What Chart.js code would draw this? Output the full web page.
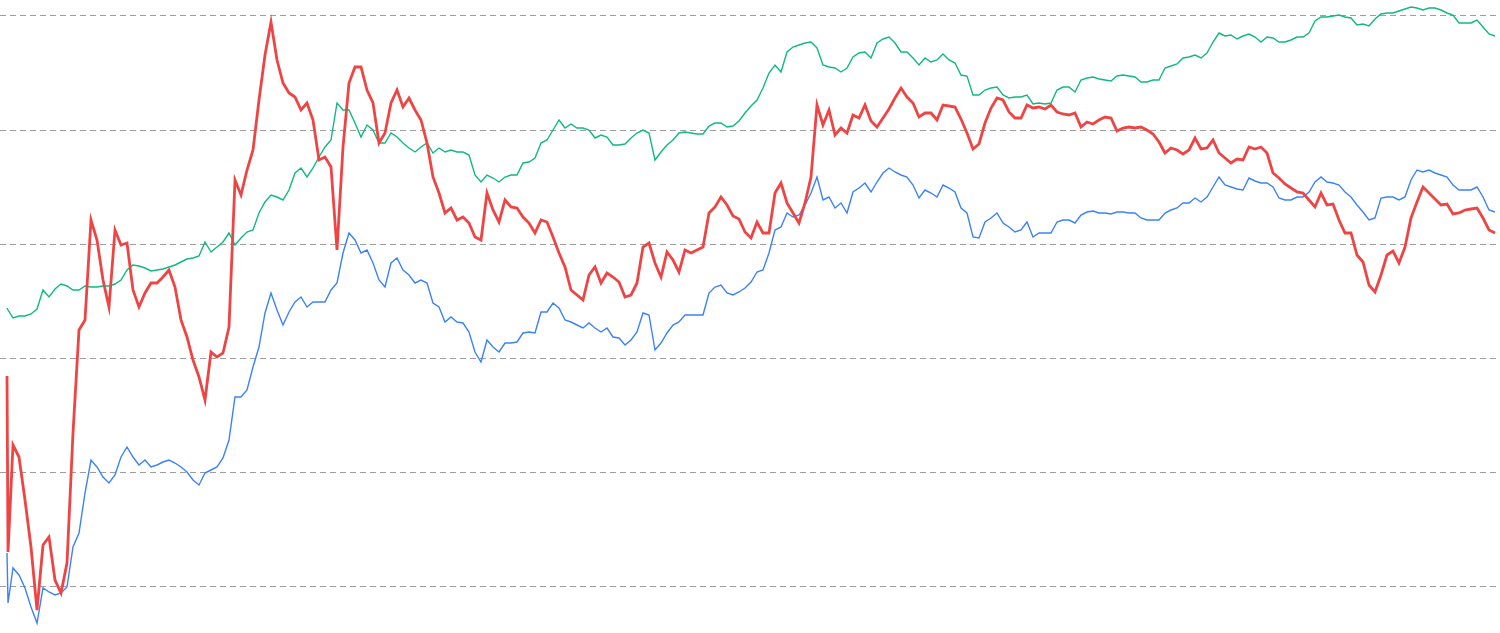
<!DOCTYPE html>
<html>
<head>
<meta charset="utf-8">
<script src="https://cdn.jsdelivr.net/npm/chart.js@4.4.1/dist/chart.umd.min.js"></script>
<style>
  html, body { margin: 0; padding: 0; background: #ffffff; }
  #wrap { width: 1500px; height: 633px; position: relative; }
</style>
</head>
<body>
<div id="wrap"><canvas id="c" width="1500" height="633"></canvas></div>
<script>
// x positions (trading-day index); a second sample just after the start
const days = [0, 0.17];
for (let d = 1; d <= 248; d++) days.push(d);

// grid ticks
const gridTicks = [0, 114, 228, 342, 456, 570];

const redSeries = [210,34,141,129,86,39,-24,41,49,6,-7,23,153,256,266,366,346,306,279,356,341,343,296,279,293,303,303,309,316,299,266,249,226,209,186,234,229,233,259,406,391,416,
436,486,531,564,526,503,493,489,476,483,466,426,429,419,336,439,503,519,519,496,483,443,453,483,496,479,488,476,466,443,409,393,373,378,366,369,363,349,346,393,376,364,386,379,378,369,363,353,366,364,349,
333,319,296,291,286,311,319,303,313,309,304,289,291,303,339,343,323,309,334,326,314,336,333,336,339,373,379,389,381,370,367,354,348,364,353,353,393,403,383,373,363,383,409,481,461,476,451,458,453,471,
468,481,465,459,468,477,488,498,489,483,469,473,473,466,481,480,479,467,453,437,442,463,478,488,486,474,468,468,481,478,479,477,481,474,472,471,473,459,464,462,466,469,468,455,458,459,458,459,456,452,
444,433,438,436,432,436,448,437,438,446,433,428,423,427,426,439,437,439,433,413,408,402,398,394,393,386,379,393,381,382,366,353,353,331,324,301,294,311,331,335,323,339,368,384,399,393,387,381,382,372,373,376,377,378,368,356,353];

const greenSeries = [278,276,268,270,270,272,277,296,289,297,302,300,296,296,300,299,299,300,300,302,306,316,321,320,318,315,316,317,319,321,324,327,328,330,344,334,339,344,353,341,348,354,
356,373,384,391,389,386,396,413,418,409,418,429,439,446,483,476,476,463,449,461,456,443,443,453,449,443,438,434,439,443,433,438,434,436,434,434,431,411,404,411,408,404,409,411,411,423,424,428,443,446,456,
466,458,462,458,458,456,448,451,449,441,441,442,448,453,456,453,426,434,441,446,453,454,453,452,452,460,463,463,459,460,465,473,480,486,498,513,521,514,534,539,541,543,544,538,521,519,518,514,518,529,
533,534,528,543,547,549,543,534,534,528,521,528,524,526,532,526,523,511,510,491,491,496,498,499,491,488,489,489,491,482,483,482,483,496,499,499,494,506,508,509,507,506,505,510,511,510,509,504,504,506,
506,518,520,522,528,529,531,528,533,544,553,550,551,547,550,552,549,544,549,548,544,544,546,549,549,553,565,569,569,570,571,569,568,561,562,560,567,572,573,573,575,577,579,578,576,578,578,576,573,571,563,563,563,566,559,552,550];

const blueSeries = [33,-17,18,11,-2,-21,-37,-2,-6,-9,-7,-1,39,53,93,126,119,109,103,111,129,139,129,121,126,119,121,124,126,123,119,114,106,101,113,116,119,128,146,189,189,196,
219,239,273,293,276,261,274,284,289,279,284,284,284,296,303,333,353,346,333,336,323,306,299,323,328,316,311,303,306,303,283,279,264,269,264,263,254,234,224,246,239,234,243,243,244,253,254,253,274,274,283,
278,266,264,261,258,263,258,254,258,249,248,241,246,254,273,271,236,243,253,261,264,271,271,271,271,293,299,301,293,291,294,298,304,314,316,333,356,359,373,369,371,381,393,409,386,389,378,383,373,394,
398,403,394,404,413,418,414,411,409,401,388,396,393,389,401,398,394,378,373,349,348,364,368,373,363,359,354,356,364,349,353,353,353,364,366,366,363,371,374,375,373,373,372,374,374,373,373,368,366,366,
366,373,376,378,383,383,388,384,389,399,409,401,399,397,396,408,405,403,403,399,388,386,386,389,389,394,404,409,404,403,401,394,389,381,374,366,368,388,389,389,386,389,406,416,414,416,413,411,409,401,396,396,396,399,389,376,374];

function pts(vals) { return vals.map((v, i) => ({ x: days[i], y: v })); }

new Chart(document.getElementById('c'), {
  type: 'line',
  data: {
    datasets: [
      { label: 'Red', data: pts(redSeries), borderColor: '#ef4444', borderWidth: 2.8, pointRadius: 0, tension: 0, fill: false },
      { label: 'Green', data: pts(greenSeries), borderColor: '#10b981', borderWidth: 1.4, pointRadius: 0, tension: 0, fill: false },
      { label: 'Blue', data: pts(blueSeries), borderColor: '#3b82f6', borderWidth: 1.4, pointRadius: 0, tension: 0, fill: false }
    ]
  },
  options: {
    responsive: false,
    animation: false,
    layout: { padding: 0 },
    plugins: { legend: { display: false }, tooltip: { enabled: false } },
    scales: {
      x: { type: 'linear', min: -7 / 6, max: 1493 / 6, display: false },
      y: {
        min: -47, max: 586,
        afterFit: s => { s.width = 0; },
        afterBuildTicks: s => { s.ticks = gridTicks.map(v => ({ value: v })); },
        ticks: { display: false },
        border: { display: false, dash: [6, 4] },
        grid: { color: '#9e9e9e', lineWidth: 1, drawTicks: false }
      }
    }
  }
});
</script>
</body>
</html>
